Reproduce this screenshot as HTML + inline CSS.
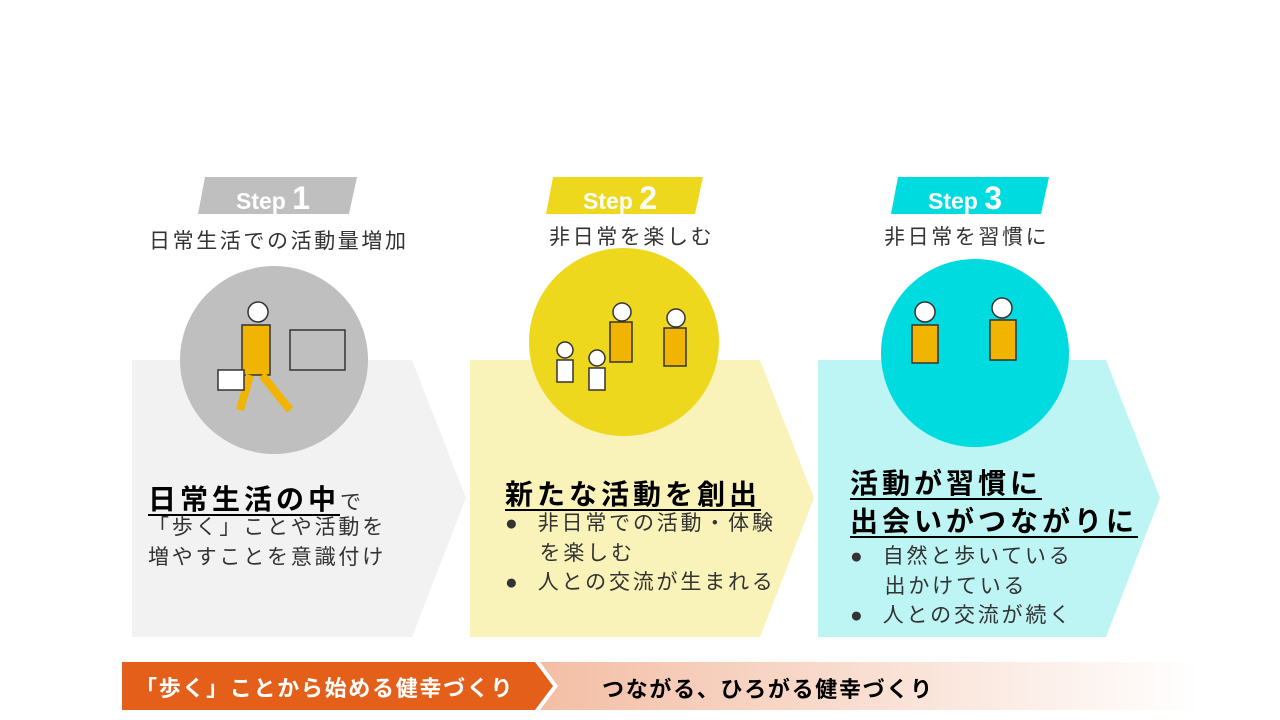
<!DOCTYPE html>
<html><head><meta charset="utf-8"><style>
body{margin:0;width:1280px;height:720px;background:#fff;position:relative;overflow:hidden;font-family:"Liberation Sans","Noto Sans CJK JP",sans-serif;color:#222}
.a{position:absolute;white-space:nowrap}
.sub{font-size:21px;color:#333;letter-spacing:2.6px}
.big{font-size:28px;font-weight:bold;color:#000;letter-spacing:4px;text-decoration:underline;text-underline-offset:5px;text-decoration-thickness:2px}
.t{font-size:21px;line-height:29.5px;color:#333;letter-spacing:2.8px}
.step{font-size:23px;font-weight:bold;color:#fff}
.step b{font-size:32px}
</style></head><body>
<svg class="a" style="left:0;top:0" width="1280" height="720">
<defs><linearGradient id="g" x1="0" x2="1"><stop offset="0" stop-color="#f3bea5"/><stop offset="1" stop-color="#fff"/></linearGradient></defs>
<polygon points="132,360 412,360 466,498 412,637 132,637" fill="#f2f2f2"/>
<polygon points="470,360 760,360 814,498 760,637 470,637" fill="#f9f2b9"/>
<polygon points="818,360 1106,360 1160,498 1106,637 818,637" fill="#bdf4f4"/>
<circle cx="274" cy="360" r="94" fill="#bfbfbf"/>
<ellipse cx="624" cy="342" rx="95" ry="94" fill="#eed81e"/>
<circle cx="975" cy="353" r="94" fill="#00dbe0"/>
<polygon points="205,177 357,177 349,214 198,214" fill="#bfbfbf"/>
<polygon points="553,177 703,177 695,214 546,214" fill="#eed81e"/>
<polygon points="898,177 1049,177 1041,214 891,214" fill="#00dbe0"/>
<polygon points="540,662 1200,662 1200,710 540,710 558,686" fill="url(#g)"/>
<polygon points="122,662 535,662 553,686 535,710 122,710" fill="#e35f1a"/>
<g fill="#f1b400" stroke="#333" stroke-width="1.5">
<rect x="242" y="325" width="28" height="50"/><line x1="250" y1="375" x2="240" y2="410" stroke="#f1b400" stroke-width="8"/><line x1="262" y1="375" x2="290" y2="410" stroke="#f1b400" stroke-width="8"/>
<circle cx="258" cy="312" r="10" fill="#fff"/><rect x="218" y="370" width="26" height="20" fill="#fff"/>
<rect x="290" y="330" width="55" height="40" fill="none"/>
<circle cx="622" cy="312" r="9" fill="#fff"/><rect x="610" y="322" width="22" height="40"/><circle cx="676" cy="318" r="9" fill="#fff"/><rect x="664" y="328" width="22" height="38"/>
<circle cx="565" cy="350" r="8" fill="#fff"/><rect x="557" y="360" width="16" height="22" fill="#fff"/><circle cx="597" cy="358" r="8" fill="#fff"/><rect x="589" y="368" width="16" height="22" fill="#fff"/>
<circle cx="925" cy="312" r="10" fill="#fff"/><rect x="912" y="325" width="26" height="38"/><circle cx="1002" cy="308" r="10" fill="#fff"/><rect x="990" y="320" width="26" height="40"/>
</g>
</svg>
<div class="a step" style="left:236px;top:180px">Step <b>1</b></div>
<div class="a step" style="left:583px;top:180px">Step <b>2</b></div>
<div class="a step" style="left:928px;top:180px">Step <b>3</b></div>
<div class="a sub" style="left:149px;top:225px">日常生活での活動量増加</div>
<div class="a sub" style="left:549px;top:221px">非日常を楽しむ</div>
<div class="a sub" style="left:884px;top:221px">非日常を習慣に</div>
<div class="a" style="left:148px;top:478px"><span class="big">日常生活の中</span><span class="t" style="letter-spacing:0">で</span></div>
<div class="a t" style="left:148px;top:513px">「歩く」ことや活動を<br>増やすことを意識付け</div>
<div class="a big" style="left:505px;top:473px">新たな活動を創出</div>
<div class="a t" style="left:505px;top:509px">●&nbsp; 非日常での活動・体験<br>&nbsp;&nbsp;&nbsp;&nbsp;を楽しむ<br>●&nbsp; 人との交流が生まれる</div>
<div class="a big" style="left:850px;top:465px;line-height:38px">活動が習慣に<br>出会いがつながりに</div>
<div class="a t" style="left:850px;top:542px">●&nbsp; 自然と歩いている<br>&nbsp;&nbsp;&nbsp;&nbsp;出かけている<br>●&nbsp; 人との交流が続く</div>
<div class="a" style="left:135px;top:671px;font-size:22px;letter-spacing:1.7px;font-weight:bold;color:#fff">「歩く」ことから始める健幸づくり</div>
<div class="a" style="left:602px;top:672px;font-size:22px;letter-spacing:1.7px;font-weight:bold;color:#000">つながる、ひろがる健幸づくり</div>
</body></html>
